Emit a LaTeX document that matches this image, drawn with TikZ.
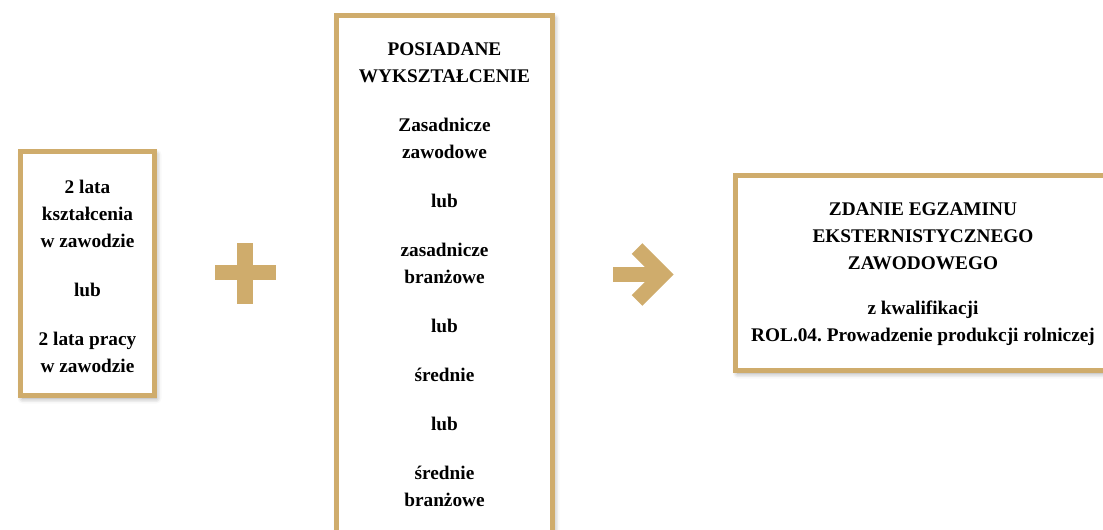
\documentclass[tikz,border=0pt]{standalone}
\usepackage{fontspec}
\setmainfont{Liberation Serif}
\usetikzlibrary{shadows.blur}
\definecolor{gold}{RGB}{207,172,108}
\tikzstyle{goldbox} = [draw=gold, line width=5pt, fill=white, inner sep=0pt, blur shadow={shadow xshift=2pt, shadow yshift=-3pt, shadow blur radius=5pt, shadow opacity=40}]
\tikzstyle{boxtext} = [align=center, inner sep=0pt, font=\frenchspacing\bfseries\fontsize{19.3}{27}\selectfont]
\tikzstyle{symbol} = [draw=gold, line width=15pt, line join=miter]

\begin{document}
\begin{tikzpicture}[x=1pt, y=-1pt]
	\useasboundingbox (0,0) rectangle (1103,530);
	% boxes
	\node[goldbox, minimum width=134pt, minimum height=244pt] (praca) at (87.5,273.5) {};
	\node[goldbox, minimum width=216pt, minimum height=565pt] (wyksztalcenie) at (444.5,298) {};
	\node[goldbox, minimum width=376pt, minimum height=195pt] (egzamin) at (923.5,273) {};
	% texts
	\node[boxtext] (pracatxt) at (87.5,276) {2 lata\\kształcenia\\w zawodzie\\[22pt]lub\\[22pt]2 lata pracy\\w zawodzie};
	\node[boxtext] (wykstxt) at (444.5,274.5) {POSIADANE\\WYKSZTAŁCENIE\\[22pt]Zasadnicze\\zawodowe\\[22pt]lub\\[22pt]zasadnicze\\branżowe\\[22pt]lub\\[22pt]średnie\\[22pt]lub\\[22pt]średnie\\branżowe};
	\node[boxtext] (egztxt) at (923,274) {ZDANIE EGZAMINU\\EKSTERNISTYCZNEGO\\ZAWODOWEGO\\[18pt]z kwalifikacji\\ROL.04. Prowadzenie produkcji rolniczej};
	% plus
	\fill[gold] (237,243) rectangle (253,304);
	\fill[gold] (215,265) rectangle (276,280);
	% arrow
	\coordinate (tail) at (613,274.5);
	\coordinate (tip) at (663,274.5);
	\draw[symbol] (tail) -- (tip);
	\draw[symbol] (637,248.5) -- (tip) -- (637,300.5);
\end{tikzpicture}
\end{document}
